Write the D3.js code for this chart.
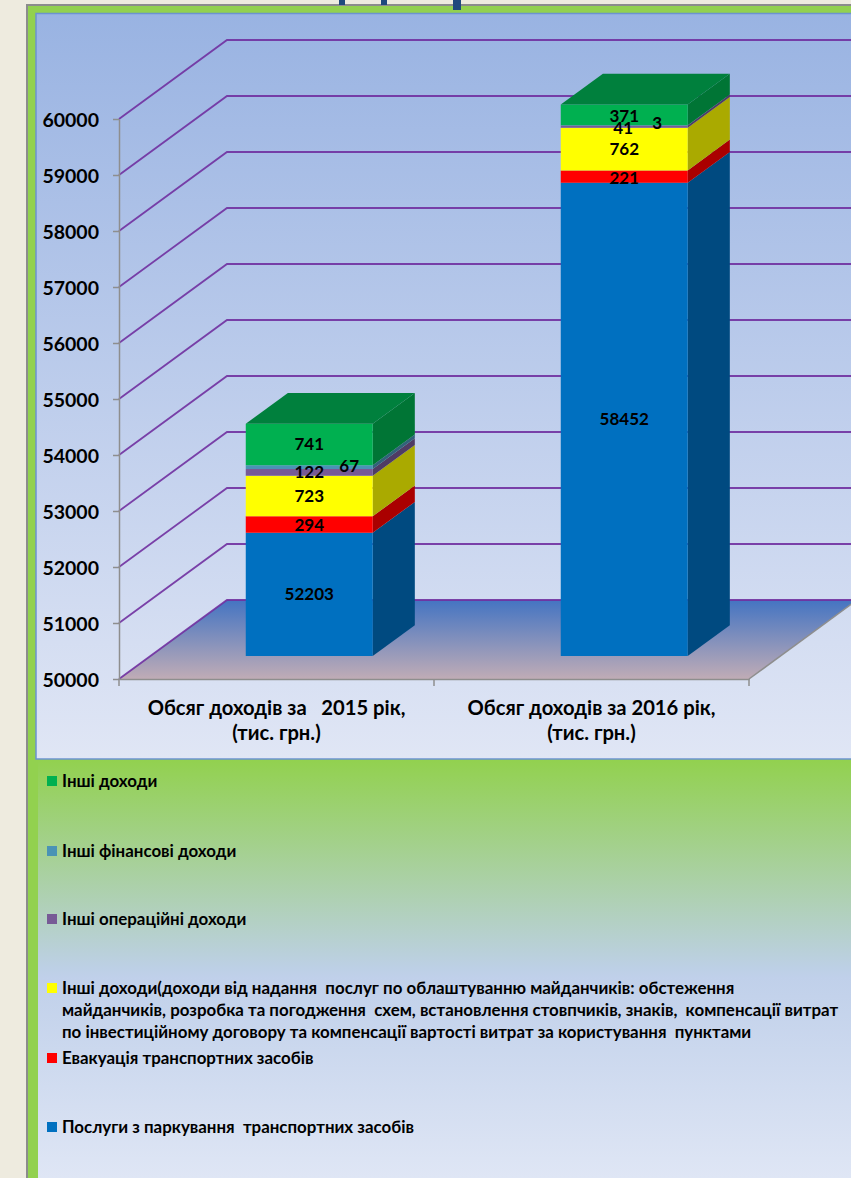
<!DOCTYPE html>
<html>
<head>
<meta charset="utf-8">
<script src="https://cdn.jsdelivr.net/npm/d3@7"></script>
<style>
  html, body { margin: 0; padding: 0; background: #eeebdf; overflow: hidden; }
  svg { display: block; }
  text { font-family: Lato, "Noto Sans", sans-serif; font-weight: 700; fill: #000; }
  .domain { stroke: #8e8e8e; stroke-width: 1.5px; }
  .tick line { stroke: #8e8e8e; stroke-width: 1.5px; }
</style>
</head>
<body>
<script>
// chart data
var categories = ["Обсяг доходів за   2015 рік,\n(тис. грн.)", "Обсяг доходів за 2016 рік,\n(тис. грн.)"];
var seriesKeys = ["parking", "towing", "services", "operating", "financial", "other"];
var parking = [52203, 58452];
var towing = [294, 221];
var services = [723, 762];
var operating = [122, 41];
var financial = [67, 3];
var other = [741, 371];
var yTicks = [50000, 51000, 52000, 53000, 54000, 55000, 56000, 57000, 58000, 59000, 60000];

var legendLabels = [
  ["Інші доходи"],
  ["Інші фінансові доходи"],
  ["Інші операційні доходи"],
  ["Інші доходи(доходи від надання  послуг по облаштуванню майданчиків: обстеження",
   "майданчиків, розробка та погодження  схем, встановлення стовпчиків, знаків,  компенсації витрат",
   "по інвестиційному договору та компенсації вартості витрат за користування  пунктами"],
  ["Евакуація транспортних засобів"],
  ["Послуги з паркування  транспортних засобів"]
];

var front = { parking: "#0070c0", towing: "#ff0000", services: "#ffff00", operating: "#775a96", financial: "#4a93b5", other: "#00b050" };
var side = { parking: "#004a80", towing: "#aa0000", services: "#aaaa00", operating: "#4f3c64", financial: "#316279", other: "#007535" };
var legendKeys = ["other", "financial", "operating", "services", "towing", "parking"];
var legendY = [781, 851, 919, 988, 1058, 1127];
// label nudges so the thin segments read like the original
var labelShift = { financial: [40, 33], operating: [0, -1] };
var labelDy = { financial: [-1, -2], operating: [0, 1], other: [0, 1], towing: [1, 1] };

var width = 851, height = 1178;
var svg = d3.select("body").append("svg").attr("width", width).attr("height", height);
var defs = svg.append("defs");

function gradient(id, stops) {
  var g = defs.append("linearGradient").attr("id", id).attr("x1", 0).attr("y1", 0).attr("x2", 0).attr("y2", 1);
  stops.forEach(s => g.append("stop").attr("offset", s[0]).attr("stop-color", s[1]));
}
gradient("chartBg", [[0, "#99b3e2"], [1, "#e0e6f5"]]);
gradient("lowerBg", [[0, "#92d14f"], [0.5, "#bdd0e6"], [0.52, "#c0d0ea"], [1, "#dfe6f5"]]);
gradient("floorBg", [[0, "#4474c2"], [1, "#c0acb6"]]);

// slide frame
svg.append("rect").attr("x", 26).attr("y", 4).attr("width", width).attr("height", height).attr("fill", "#8c8c8c");
svg.append("rect").attr("x", 28).attr("y", 6).attr("width", width).attr("height", height).attr("fill", "#92d14f");
svg.append("rect").attr("x", 38).attr("y", 760).attr("width", width).attr("height", 418).attr("fill", "url(#lowerBg)");
svg.append("rect").attr("x", 36).attr("y", 13.5).attr("width", width).attr("height", 745.5)
  .attr("fill", "url(#chartBg)").attr("stroke", "#6c93cf").attr("stroke-width", 1.5);

// bits of the cropped title above the frame
[[339, 6, 5], [381, 6, 5], [453, 8, 10]].forEach(function(b) {
  svg.append("rect").attr("x", b[0]).attr("y", 0).attr("width", b[1]).attr("height", b[2]).attr("fill", "#1f497d");
});

// scales
var y = d3.scaleLinear().domain([50000, 60000]).range([679, 119]);
var x = d3.scaleBand().domain(categories).range([119, 749]);
var depthX = d3.scaleLinear().domain([0, 1]).range([0, 108]);
var depthY = d3.scaleLinear().domain([0, 1]).range([0, -79]);
var barX = d3.scaleLinear().domain([0, 1]).range([0.303, 0.706]);

function pt(px, value, depth) {
  return [px + depthX(depth), y(value) + depthY(depth)];
}
function poly(points) {
  return points.map(p => p.join(",")).join(" ");
}

// floor
var xMin = x.range()[0], xMax = x.range()[1];
svg.append("polygon")
  .attr("points", poly([pt(xMin, 50000, 0), pt(xMax, 50000, 0), pt(xMax, 50000, 1), pt(xMin, 50000, 1)]))
  .attr("fill", "url(#floorBg)");

// gridlines, running up the side wall and along the back wall
yTicks.forEach(function(t) {
  svg.append("polyline").attr("fill", "none").attr("stroke", "#7030a0").attr("stroke-width", 1.8).attr("opacity", 0.9)
    .attr("points", poly([pt(xMin, t, 0), pt(xMin, t, 1), [width, y(t) + depthY(1)]]));
});
svg.append("line").attr("stroke", "#8e8e8e").attr("stroke-width", 1.5)
  .attr("x1", pt(xMax, 50000, 0)[0]).attr("y1", pt(xMax, 50000, 0)[1])
  .attr("x2", pt(xMax, 50000, 1)[0]).attr("y2", pt(xMax, 50000, 1)[1]);

// stacked 3d bars
var rows = categories.map(function(c, i) {
  return { category: c, parking: parking[i], towing: towing[i], services: services[i], operating: operating[i], financial: financial[i], other: other[i] };
});
var stacked = d3.stack().keys(seriesKeys)(rows);
var frontDepth = 0.29, backDepth = 0.68;

function clampBase(v) { return Math.max(v, y.domain()[0]); }

categories.forEach(function(c, i) {
  var bw = x.bandwidth();
  var x0 = x(c) + bw * barX(0);
  var x1 = x(c) + bw * barX(1);
  var g = svg.append("g");
  stacked.forEach(function(layer) {
    var key = layer.key;
    var lo = clampBase(layer[i][0]), hi = layer[i][1];
    g.append("polygon").attr("fill", side[key])
      .attr("points", poly([pt(x1, lo, frontDepth), pt(x1, lo, backDepth), pt(x1, hi, backDepth), pt(x1, hi, frontDepth)]));
  });
  stacked.forEach(function(layer) {
    var key = layer.key;
    var lo = clampBase(layer[i][0]), hi = layer[i][1];
    g.append("polygon").attr("fill", front[key])
      .attr("points", poly([pt(x0, lo, frontDepth), pt(x1, lo, frontDepth), pt(x1, hi, frontDepth), pt(x0, hi, frontDepth)]));
  });
  var topV = stacked[stacked.length - 1][i][1];
  g.append("polygon").attr("fill", "#00803d")
    .attr("points", poly([pt(x0, topV, frontDepth), pt(x1, topV, frontDepth), pt(x1, topV, backDepth), pt(x0, topV, backDepth)]));
  // data labels
  stacked.forEach(function(layer) {
    var key = layer.key;
    var lo = clampBase(layer[i][0]), hi = layer[i][1];
    var p = pt((x0 + x1) / 2, (lo + hi) / 2, frontDepth);
    var sx = labelShift[key] ? labelShift[key][i] : 0;
    var sy = labelDy[key] ? labelDy[key][i] : 0;
    g.append("text").attr("x", p[0] + sx).attr("y", p[1] + sy).attr("dy", "0.35em")
      .attr("text-anchor", "middle").attr("font-size", 17)
      .text(layer[i].data[key]);
  });
});

// axes
var yAxis = d3.axisLeft(y).tickValues(yTicks).tickFormat(d3.format("d")).tickSize(6).tickSizeOuter(0);
var yG = svg.append("g").attr("transform", "translate(119,0)").call(yAxis);
yG.selectAll("text").attr("font-size", 19.5).attr("x", -20).attr("dy", "0.38em");

var xAxis = d3.axisBottom(x).tickSize(0).tickSizeOuter(0).tickFormat("");
var xG = svg.append("g").attr("transform", "translate(0,679)").call(xAxis);
[xMin].concat(categories.map(c => x(c) + x.bandwidth())).forEach(function(px) {
  xG.append("line").attr("stroke", "#8e8e8e").attr("stroke-width", 1.5).attr("x1", px).attr("x2", px).attr("y1", 0).attr("y2", 7);
});
categories.forEach(function(c) {
  var t = svg.append("text").attr("text-anchor", "middle").attr("font-size", 20.2).attr("xml:space", "preserve");
  c.split("\n").forEach(function(line, i) {
    t.append("tspan").attr("x", x(c) + x.bandwidth() / 2).attr("y", 715 + i * 25).text(line);
  });
});

// legend
legendKeys.forEach(function(key, i) {
  svg.append("rect").attr("x", 47).attr("y", legendY[i] - 5).attr("width", 10).attr("height", 10).attr("fill", front[key]);
  var t = svg.append("text").attr("font-size", 16.9).attr("xml:space", "preserve");
  legendLabels[i].forEach(function(line, j) {
    t.append("tspan").attr("x", 62).attr("y", legendY[i] + 6 + j * 22).text(line);
  });
});
</script>
</body>
</html>
